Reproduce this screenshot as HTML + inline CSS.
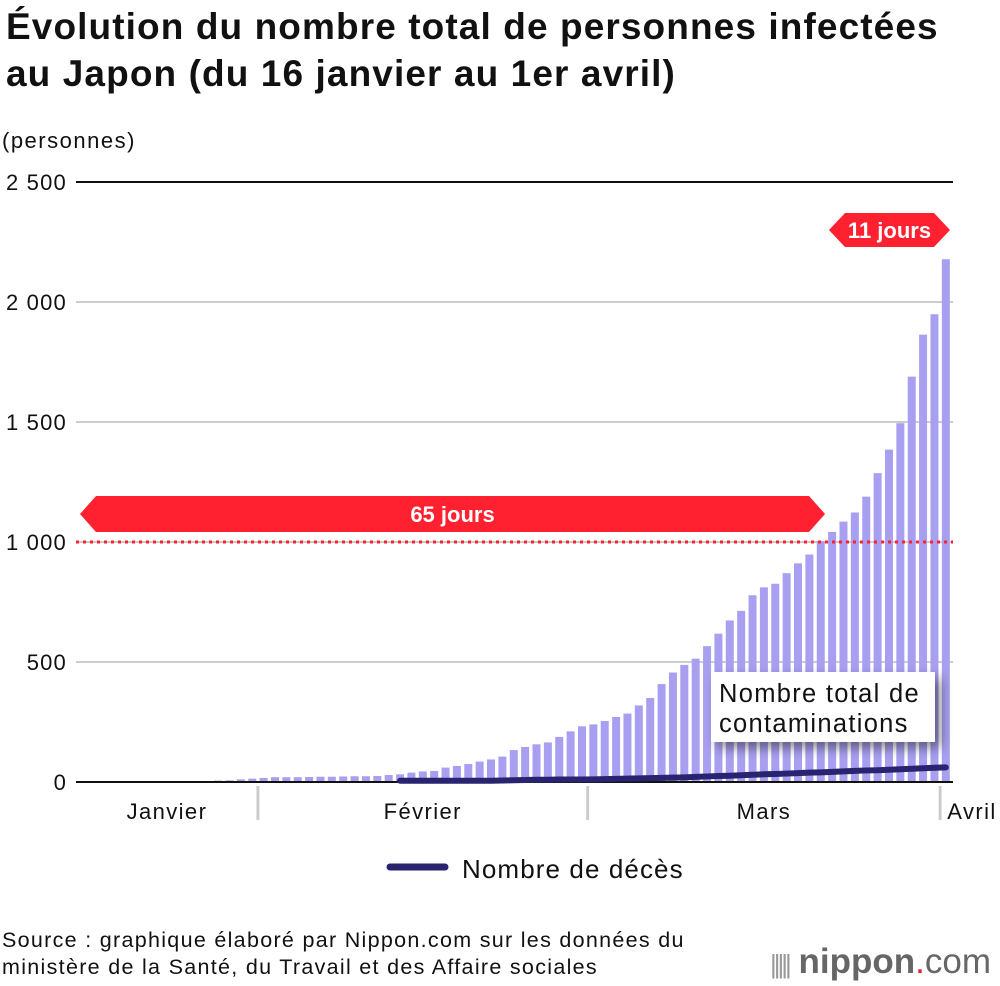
<!DOCTYPE html>
<html><head><meta charset="utf-8">
<style>
body{margin:0;width:1000px;height:986px;background:#fff;font-family:"Liberation Sans",sans-serif;overflow:hidden}
#title{position:absolute;left:6px;top:3px;font-size:37px;font-weight:bold;line-height:47px;color:#111;margin:0;letter-spacing:1.1px;white-space:nowrap}
#src{position:absolute;left:2px;top:927px;font-size:21.5px;line-height:27px;color:#111;letter-spacing:1.3px;white-space:nowrap}
#logo{position:absolute;left:770px;top:942px;font-size:35px;color:#666}
</style></head><body>
<h1 id="title">Évolution du nombre total de personnes infectées<br>au Japon (du 16 janvier au 1er avril)</h1>
<svg id="chart" width="1000" height="986" style="position:absolute;left:0;top:0">
<defs><filter id="sh" x="-20%" y="-20%" width="150%" height="150%"><feGaussianBlur in="SourceAlpha" stdDeviation="6"/><feOffset dx="6" dy="6"/><feComponentTransfer><feFuncA type="linear" slope="0.45"/></feComponentTransfer><feMerge><feMergeNode/><feMergeNode in="SourceGraphic"/></feMerge></filter></defs>
<g id="grid"></g><g id="bars"></g><g id="overlay"></g>
</svg>
<div id="src">Source : graphique élaboré par Nippon.com sur les données du<br>ministère de la Santé, du Travail et des Affaire sociales</div>
<div id="logo"><span style="font-size:26px;letter-spacing:-3px;color:#999">|||||</span> <b>nippon</b><span style="color:#e8202a">.</span>com</div>
<script>
const cases=[1,1,1,1,1,1,1,1,2,3,4,4,6,7,11,14,17,20,20,20,21,22,22,23,24,24,25,29,32,39,44,46,60,67,75,85,94,106,133,146,157,165,188,211,232,240,254,271,285,319,350,408,456,488,514,566,618,673,713,778,811,826,870,911,948,1004,1042,1085,1123,1189,1287,1385,1495,1689,1864,1949,2178];
const deathStart=28;
const deaths=[1,1,1,1,1,1,1,1,1,2,3,4,5,5,6,6,6,7,8,9,10,11,12,13,14,15,17,19,21,22,24,26,28,29,31,33,35,36,38,40,42,44,45,47,49,51,53,55,57];
const yTicks=[0,500,1000,1500,2000,2500];
const yLabels=["0","500","1 000","1 500","2 000","2 500"];
const months=["Janvier","Février","Mars","Avril"];
const monthStarts=[0,16,45,76];
const NS="http://www.w3.org/2000/svg";
const x0=76,step=11.37,y0=782,ky=600/2500;
const X=i=>x0+i*step, Y=v=>y0-v*ky;
function mk(p,t,a){const e=document.createElementNS(NS,t);for(const k in a)e.setAttribute(k,a[k]);p.appendChild(e);return e;}
const svg=document.getElementById('chart'),grid=document.getElementById('grid'),bars=document.getElementById('bars'),ov=document.getElementById('overlay');
yTicks.forEach((v,k)=>{
 const l=mk(grid,'line',{x1:76,x2:953,y1:Y(v),y2:Y(v),stroke:k==5?'#111':'#ccc','stroke-width':2});
 
 const t=mk(grid,'text',{x:67,y:Y(v)+8,'text-anchor':'end','font-size':22,'letter-spacing':1.2,fill:'#111'});t.textContent=yLabels[k];
 
});
const yt=mk(grid,'text',{x:2,y:148,'font-size':22,'letter-spacing':1.5,fill:'#111'});yt.textContent='(personnes)';

cases.forEach((v,i)=>{
 const r=mk(bars,'rect',{x:X(i)+1.7,y:Y(v),width:8,height:v*ky,fill:'#a89ff0'});
 
});
const ax=mk(ov,'line',{x1:76,x2:953,y1:y0,y2:y0,stroke:'#111','stroke-width':2});

const dl=mk(ov,'line',{x1:76,x2:953,y1:Y(1000),y2:Y(1000),stroke:'#ff2030','stroke-width':3,'stroke-dasharray':'3 4'});

monthStarts.forEach((s,k)=>{
 if(k>0){const sl=mk(ov,'line',{x1:X(s),x2:X(s),y1:786,y2:820,stroke:'#ccc','stroke-width':3});
 }
 const end=k<3?monthStarts[k+1]:78.2;
 const t=mk(ov,'text',{x:k==3?972:(X(s)+X(end))/2,y:819,'text-anchor':'middle','font-size':22,'letter-spacing':1.4,fill:'#111'});t.textContent=months[k];
 
});
const pts=deaths.map((v,j)=>[X(deathStart+j)+5.7,Y(v)-1]);
const dp=mk(ov,'polyline',{points:pts.map(p=>p.join(',')).join(' '),fill:'none',stroke:'#2a2370','stroke-width':6,'stroke-linecap':'round','stroke-linejoin':'round'});

function banner(x1,x2,yc,h,txt,name,fs){
 const g=mk(ov,'g',{});
 const a=h/2,w=16;
 mk(g,'polygon',{points:`${x1},${yc} ${x1+w},${yc-a} ${x2-w},${yc-a} ${x2},${yc} ${x2-w},${yc+a} ${x1+w},${yc+a}`,fill:'#ff2030'});
 const t=mk(g,'text',{x:(x1+x2)/2,y:yc+8,'text-anchor':'middle','font-size':fs,'font-weight':'bold',fill:'#fff'});t.textContent=txt;
}
banner(80,825,514,36,'65 jours','banner-65-days',22);
banner(829,950,230,34,'11 jours','banner-11-days',22);
const lg=mk(ov,'g',{filter:'url(#sh)'});
mk(lg,'rect',{x:711,y:672,width:224,height:70,fill:'#fff'});
const t1=mk(ov,'text',{x:719,y:702,'font-size':25.5,'letter-spacing':1.3,fill:'#111'});t1.textContent='Nombre total de';
const t2=mk(ov,'text',{x:719,y:732,'font-size':25.5,'letter-spacing':1.3,fill:'#111'});t2.textContent='contaminations';


const ll=mk(ov,'line',{x1:390,x2:445,y1:867,y2:867,stroke:'#2a2370','stroke-width':7,'stroke-linecap':'round'});

const lt=mk(ov,'text',{x:462,y:878,'font-size':26,'letter-spacing':1.1,fill:'#111'});lt.textContent='Nombre de décès';

</script>
</body></html>
